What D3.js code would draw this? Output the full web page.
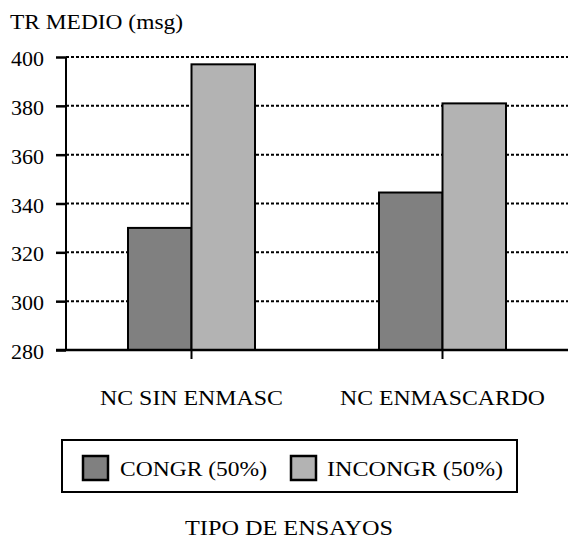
<!DOCTYPE html>
<html>
<head>
<meta charset="utf-8">
<script src="https://cdn.jsdelivr.net/npm/d3@7"></script>
<style>
  html, body { margin: 0; padding: 0; background: #fff; }
  svg { display: block; }
</style>
</head>
<body>
<div id="chart"></div>
<script>
const categories = ["NC SIN ENMASC", "NC ENMASCARDO"];
const seriesNames = ["CONGR (50%)", "INCONGR (50%)"];
const congrValues = [330, 344.5];
const incongrValues = [397, 381];
const yTicks = [280, 300, 320, 340, 360, 380, 400];
const yTitle = "TR MEDIO (msg)";
const xTitle = "TIPO DE ENSAYOS";
const colors = ["#808080", "#b3b3b3"];

(function () {
const W = 568, H = 542;
const mLeft = 66, mRight = 568, mTop = 57, mBottom = 350;
const FONT = "'Liberation Serif'";

const svg = d3.select("#chart").append("svg").attr("width", W).attr("height", H);

const y = d3.scaleLinear().domain([280, 400]).range([mBottom, mTop]);
const x0 = d3.scaleBand().domain(categories).range([mLeft, mRight]).paddingInner(0.494).paddingOuter(0.247);
const x1 = d3.scaleBand().domain(seriesNames).range([0, x0.bandwidth()]);

const data = categories.map((c, i) => ({ cat: c, vals: [congrValues[i], incongrValues[i]] }));

// gridlines
svg.append("g").selectAll("line").data(yTicks.filter(t => t > 280)).join("line")
  .attr("x1", mLeft).attr("x2", mRight)
  .attr("y1", d => y(d)).attr("y2", d => y(d))
  .attr("stroke", "#000").attr("stroke-width", 2).attr("stroke-dasharray", "3,2");

// bars
const g = svg.append("g").selectAll("g").data(data).join("g")
  .attr("transform", d => `translate(${x0(d.cat)},0)`);
g.selectAll("rect").data(d => d.vals.map((v, i) => ({ v, s: seriesNames[i], i }))).join("rect")
  .attr("x", d => x1(d.s)).attr("width", x1.bandwidth())
  .attr("y", d => y(d.v)).attr("height", d => y(280) - y(d.v))
  .attr("fill", d => colors[d.i]).attr("stroke", "#000").attr("stroke-width", 2);

// y axis
const yAxis = svg.append("g").attr("transform", `translate(${mLeft},0)`)
  .call(d3.axisLeft(y).tickValues(yTicks).tickSize(10).tickPadding(12).tickFormat(d3.format("d")));
yAxis.attr("font-family", FONT).attr("font-size", 20);
yAxis.select(".domain").attr("stroke-width", 2).attr("d", `M0,${mTop}V${mBottom}`);
yAxis.selectAll(".tick line").attr("stroke-width", 2.5);
yAxis.selectAll(".tick text").style("font-family", FONT).style("font-size", "20px").attr("dy", 8.5)
  .attr("fill", "#000").attr("textLength", 33).attr("lengthAdjust", "spacingAndGlyphs");

// x axis
const xAxis = svg.append("g").attr("transform", `translate(0,${mBottom})`)
  .call(d3.axisBottom(x0).tickSize(9).tickSizeOuter(0));
xAxis.attr("font-family", FONT).attr("font-size", 20);
xAxis.select(".domain").attr("stroke-width", 2.5).attr("d", `M${mLeft - 10},0H${mRight}`);
xAxis.selectAll(".tick line").attr("stroke-width", 2);
xAxis.selectAll(".tick text").style("font-family", FONT).style("font-size", "20px").attr("y", 55).attr("dy", 0)
  .attr("fill", "#000").attr("textLength", (d, i) => [183, 205][i]).attr("lengthAdjust", "spacingAndGlyphs");

function label(x, yy, w, t) {
  svg.append("text").attr("x", x).attr("y", yy)
    .style("font-family", FONT).style("font-size", "20px").attr("fill", "#000")
    .attr("textLength", w).attr("lengthAdjust", "spacingAndGlyphs").text(t);
}

// y title
label(10, 29, 173, yTitle);

// legend
svg.append("rect").attr("x", 62).attr("y", 440).attr("width", 455).attr("height", 52)
  .attr("fill", "#fff").attr("stroke", "#000").attr("stroke-width", 2);
const legX = [83, 291];
const legTextX = [120, 327];
const legTextW = [147, 176];
seriesNames.forEach((s, i) => {
  svg.append("rect").attr("x", legX[i]).attr("y", 456).attr("width", 25).attr("height", 24)
    .attr("fill", colors[i]).attr("stroke", "#000").attr("stroke-width", 2.5);
  label(legTextX[i], 476, legTextW[i], s);
});

// x title
label(185, 535, 208, xTitle);
})();
</script>
</body>
</html>
